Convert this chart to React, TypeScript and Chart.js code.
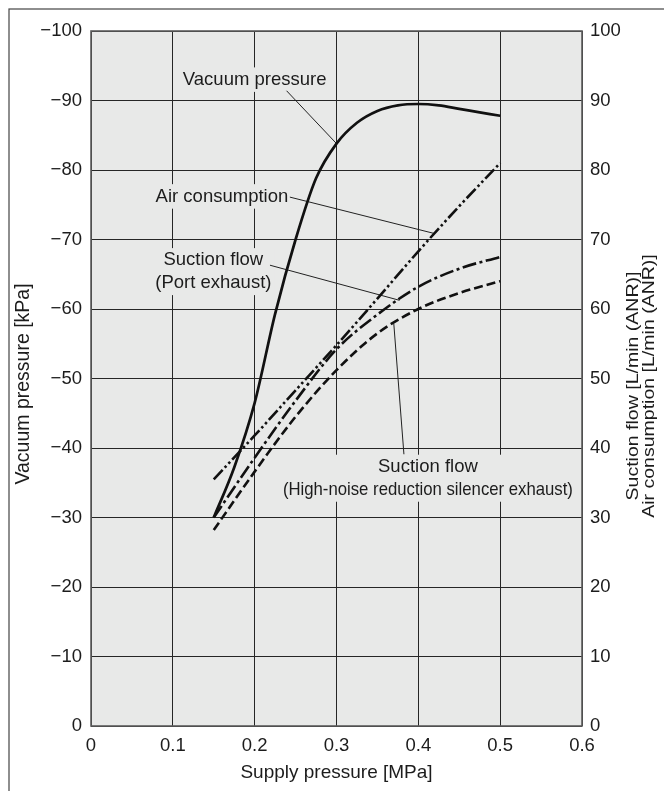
import React, { useEffect, useRef } from 'react';
import { Chart, registerables } from 'chart.js';

Chart.register(...registerables);

// ---- Data ----
const vacuumX = [0.15, 0.175, 0.2, 0.225, 0.25, 0.275, 0.3, 0.325, 0.35, 0.375, 0.4, 0.425, 0.45, 0.475, 0.5];
const vacuumKPa = [-30, -37.2, -46.5, -59.3, -70, -78.8, -83.8, -86.8, -88.5, -89.3, -89.5, -89.3, -88.8, -88.3, -87.8];

const flowX = [0.15, 0.2, 0.25, 0.3, 0.35, 0.4, 0.45, 0.5];
const airConsumption = [35.5, 41.8, 48.3, 54.8, 61.5, 68.3, 74.8, 81];
const suctionPort = [30, 38.6, 46.8, 54.2, 59.2, 63.2, 65.8, 67.5];
const suctionSilencer = [28.2, 36.6, 44.5, 51.2, 56.5, 60, 62.3, 64];

const xTicks = [0, 0.1, 0.2, 0.3, 0.4, 0.5, 0.6];
const vacuumTicks = [-100, -90, -80, -70, -60, -50, -40, -30, -20, -10, 0];
const flowTicks = [0, 10, 20, 30, 40, 50, 60, 70, 80, 90, 100];

const xTitle = 'Supply pressure [MPa]';
const leftTitle = 'Vacuum pressure [kPa]';
const rightTitle = ['Suction flow [L/min (ANR)]', 'Air consumption [L/min (ANR)]'];

// Callout labels: text lines, label centre (MPa, flow-axis units), leader start and end (on curve)
const callouts = [
  { lines: ['Vacuum pressure'], x: 0.2, y: 93.0, fx: 0.239, fy: 91.4, tx: 0.3, ty: 83.8, maxW: 0 },
  { lines: ['Air consumption'], x: 0.16, y: 76.2, fx: 0.243, fy: 76.1, tx: 0.42, ty: 70.85, maxW: 0 },
  { lines: ['Suction flow', '(Port exhaust)'], x: 0.1495, y: 67.0, fx: 0.2187, fy: 66.3, tx: 0.377, ty: 61.25, maxW: 0 },
  { lines: ['Suction flow', '(High-noise reduction silencer exhaust)'], x: 0.4117, y: 37.27, fx: 0.3824, fy: 39.1, tx: 0.37, ty: 57.9, maxW: 290 },
];

const FAMILY = '"Liberation Sans", Arial, Helvetica, sans-serif';
const TEXT = '#1c1c1c';
const PLOT_BG = '#e8e9e8';

const decor = {
  id: 'decor',
  beforeDraw(chart: any) {
    const { ctx, chartArea: a } = chart;
    ctx.save();
    ctx.fillStyle = '#ffffff';
    ctx.fillRect(0, 0, chart.width, chart.height);
    ctx.fillStyle = PLOT_BG;
    ctx.fillRect(a.left, a.top, a.right - a.left, a.bottom - a.top);
    ctx.restore();
  },
  beforeDatasetsDraw(chart: any) {
    const { ctx, chartArea: a } = chart;
    const sx = chart.scales.x;
    const sy = chart.scales.yR;
    ctx.save();
    // plot border
    ctx.strokeStyle = '#5c5c5c';
    ctx.lineWidth = 1.6;
    ctx.strokeRect(a.left, a.top, a.right - a.left, a.bottom - a.top);
    // callouts
    ctx.font = `18.5px ${FAMILY}`;
    ctx.textAlign = 'center';
    ctx.textBaseline = 'middle';
    const lineGap = 22.5;
    callouts.forEach((c) => {
      const cx = sx.getPixelForValue(c.x);
      const cy0 = sy.getPixelForValue(c.y);
      let w = 0;
      c.lines.forEach((l) => {
        let lw = ctx.measureText(l).width;
        if (c.maxW && lw > c.maxW) lw = c.maxW;
        w = Math.max(w, lw);
      });
      const h = lineGap * c.lines.length;
      ctx.fillStyle = PLOT_BG;
      ctx.fillRect(cx - w / 2 - 3, cy0 - lineGap / 2 - 1, w + 6, h + 2);
      ctx.fillStyle = TEXT;
      c.lines.forEach((l, i) => {
        if (c.maxW) ctx.fillText(l, cx, cy0 + i * lineGap, c.maxW);
        else ctx.fillText(l, cx, cy0 + i * lineGap);
      });
      ctx.strokeStyle = '#222';
      ctx.lineWidth = 1;
      ctx.beginPath();
      ctx.moveTo(sx.getPixelForValue(c.fx), sy.getPixelForValue(c.fy));
      ctx.lineTo(sx.getPixelForValue(c.tx), sy.getPixelForValue(c.ty));
      ctx.stroke();
    });
    ctx.restore();
  },
  afterDraw(chart: any) {
    const { ctx } = chart;
    ctx.save();
    // outer frame (only left/top edges fall inside the picture)
    ctx.strokeStyle = '#444';
    ctx.lineWidth = 1.2;
    ctx.strokeRect(9, 9, 700, 800);
    ctx.fillStyle = TEXT;
    ctx.textAlign = 'center';
    ctx.textBaseline = 'middle';
    // left axis title, reading bottom to top
    ctx.font = `19.5px ${FAMILY}`;
    ctx.save();
    ctx.translate(24, 384);
    ctx.rotate(-Math.PI / 2);
    ctx.fillText(leftTitle, 0, 0);
    ctx.restore();
    // right axis title, two lines, reading bottom to top
    ctx.font = `16px ${FAMILY}`;
    const xs = [634, 649.5];
    rightTitle.forEach((t, i) => {
      ctx.save();
      ctx.translate(xs[i], 386);
      ctx.rotate(-Math.PI / 2);
      ctx.scale(1.22, 1);
      ctx.fillText(t, 0, 0);
      ctx.restore();
    });
    ctx.restore();
  },
};

const tickFont = { family: FAMILY, size: 18.5 };
const titleFont = { family: FAMILY, size: 19 };
const gridStyle = { color: '#262626', lineWidth: 1, drawTicks: false };

export default function App() {
  const ref = useRef<HTMLCanvasElement>(null);
  useEffect(() => {
    if (!ref.current) return;
    const chart = new Chart(ref.current, {
      type: 'line',
      data: {
        datasets: [
          {
            label: 'Vacuum pressure',
            data: vacuumX.map((x, i) => ({ x, y: vacuumKPa[i] })),
            yAxisID: 'yL',
            borderColor: '#111',
            borderWidth: 2.7,
            borderDash: [],
          },
          {
            label: 'Air consumption',
            data: flowX.map((x, i) => ({ x, y: airConsumption[i] })),
            yAxisID: 'yR',
            borderColor: '#111',
            borderWidth: 2.6,
            borderDash: [13, 3, 2.5, 3, 2.5, 3],
          },
          {
            label: 'Suction flow (Port exhaust)',
            data: flowX.map((x, i) => ({ x, y: suctionPort[i] })),
            yAxisID: 'yR',
            borderColor: '#111',
            borderWidth: 2.6,
            borderDash: [14, 3.5, 3, 3.5],
          },
          {
            label: 'Suction flow (High-noise reduction silencer exhaust)',
            data: flowX.map((x, i) => ({ x, y: suctionSilencer[i] })),
            yAxisID: 'yR',
            borderColor: '#111',
            borderWidth: 2.6,
            borderDash: [9, 4],
          },
        ],
      },
      options: {
        responsive: false,
        animation: false,
        devicePixelRatio: 1,
        layout: { padding: { top: 31, left: 0, right: 0, bottom: 0 } },
        plugins: { legend: { display: false }, tooltip: { enabled: false } },
        elements: {
          point: { radius: 0 },
          line: { cubicInterpolationMode: 'monotone', fill: false, borderCapStyle: 'butt' },
        },
        scales: {
          x: {
            type: 'linear',
            min: 0,
            max: 0.6,
            afterFit(s: any) { s.height = 65; },
            afterBuildTicks(s: any) { s.ticks = xTicks.map((v) => ({ value: v })); },
            ticks: {
              padding: 9,
              font: tickFont,
              color: TEXT,
              maxRotation: 0,
              autoSkip: false,
              callback: (v: any) => String(Math.round(Number(v) * 10) / 10),
            },
            grid: gridStyle,
            border: { display: false },
            title: { display: true, text: xTitle, font: titleFont, color: TEXT, padding: { top: 0, bottom: 6.6 } },
          },
          yL: {
            type: 'linear',
            position: 'left',
            min: -100,
            max: 0,
            reverse: true,
            afterFit(s: any) { s.width = 91; },
            afterBuildTicks(s: any) { s.ticks = vacuumTicks.map((v) => ({ value: v })); },
            ticks: {
              padding: 9,
              font: tickFont,
              color: TEXT,
              autoSkip: false,
              callback: (v: any) => (Number(v) < 0 ? '\u2212' + Math.abs(Number(v)) : '0'),
            },
            grid: gridStyle,
            border: { display: false },
            title: { display: false },
          },
          yR: {
            type: 'linear',
            position: 'right',
            min: 0,
            max: 100,
            afterFit(s: any) { s.width = 82; },
            afterBuildTicks(s: any) { s.ticks = flowTicks.map((v) => ({ value: v })); },
            ticks: { padding: 8, font: tickFont, color: TEXT, autoSkip: false },
            grid: { display: false, drawTicks: false },
            border: { display: false },
          },
        },
      },
      plugins: [decor],
    } as any);
    return () => chart.destroy();
  }, []);

  return (
    <div style={{ position: 'absolute', left: 0, top: 0, width: 664, height: 791 }}>
      <canvas ref={ref} width={664} height={791} style={{ display: 'block' }} />
    </div>
  );
}
